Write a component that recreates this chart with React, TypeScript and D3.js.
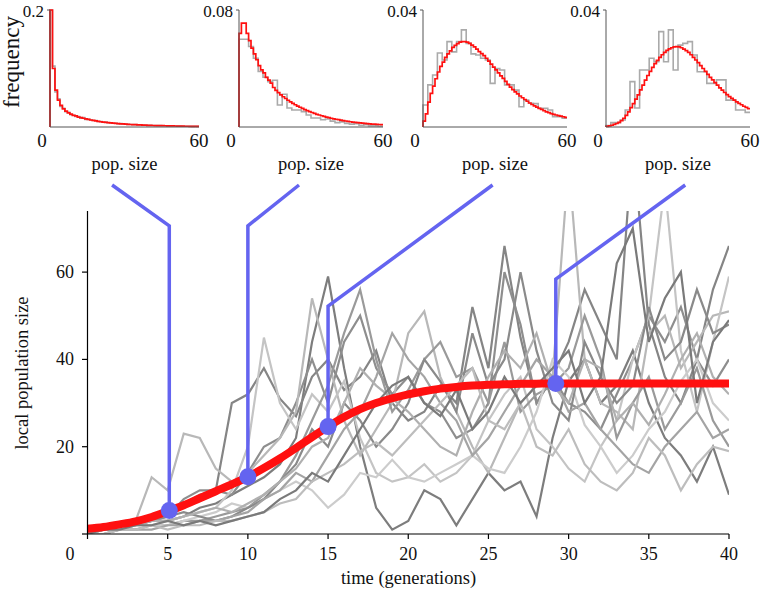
import React from 'react';
import * as d3 from 'd3';

// ---------- main chart data ----------
const timeTicks = [5, 10, 15, 20, 25, 30, 35, 40];
const popTicks = [20, 40, 60];

// deterministic mean (red) at t = 0..40
const meanCurve = [1.2, 1.6, 2.2, 2.9, 3.9, 5.2, 6.6, 8.2, 9.8, 11.4, 13.1, 15.1, 17.3, 19.7, 22.2, 24.6, 26.8, 28.6, 30.0, 31.1, 32.0, 32.7, 33.3, 33.7, 34.0, 34.2, 34.3, 34.4, 34.45, 34.5, 34.5, 34.5, 34.5, 34.5, 34.5, 34.5, 34.5, 34.5, 34.5, 34.5, 34.5];

// stochastic realisations at t = 0..40
const run1 = [0, 1, 1, 2, 3, 3, 4, 6, 7, 9, 11, 13, 16, 22, 44, 59, 38, 20, 6, 1, 3, 10, 8, 2, 8, 14, 10, 12, 4, 22, 35, 40, 30, 34, 42, 30, 22, 18, 12, 20, 9];
const run2 = [1, 2, 2, 3, 4, 5, 7, 9, 10, 30, 32, 38, 31, 27, 36, 40, 33, 36, 42, 30, 26, 28, 34, 30, 52, 38, 66, 45, 30, 36, 44, 56, 48, 40, 90, 48, 36, 30, 40, 56, 66];
const run3 = [0, 1, 2, 3, 3, 4, 8, 10, 10, 9, 14, 20, 22, 30, 40, 30, 44, 50, 38, 32, 36, 30, 28, 22, 24, 30, 60, 48, 30, 36, 30, 28, 24, 32, 40, 50, 44, 52, 40, 34, 40];
const run4 = [1, 1, 2, 3, 13, 10, 23, 22, 15, 12, 14, 18, 22, 28, 54, 40, 26, 18, 24, 30, 46, 51, 36, 28, 20, 14, 22, 30, 34, 36, 85, 40, 30, 28, 24, 46, 50, 38, 44, 50, 51];
const run5 = [0, 1, 1, 2, 2, 3, 4, 5, 6, 10, 20, 45, 30, 24, 32, 28, 35, 22, 14, 12, 13, 16, 12, 14, 18, 26, 32, 36, 24, 20, 15, 12, 20, 26, 40, 50, 80, 42, 28, 44, 59];
const run6 = [0, 0, 1, 1, 2, 2, 3, 3, 4, 5, 6, 9, 12, 18, 26, 34, 46, 56, 40, 28, 33, 40, 44, 36, 38, 30, 44, 28, 32, 34, 38, 50, 40, 22, 30, 36, 24, 30, 38, 26, 20];
const run7 = [0, 1, 1, 2, 2, 2, 3, 4, 5, 7, 6, 8, 10, 12, 10, 6, 9, 14, 13, 17, 13, 12, 14, 16, 18, 15, 14, 20, 28, 40, 36, 25, 20, 14, 18, 24, 28, 35, 40, 30, 26];
const run8 = [1, 1, 2, 2, 3, 4, 5, 4, 3, 4, 6, 8, 12, 16, 24, 20, 30, 26, 20, 24, 30, 40, 35, 28, 46, 34, 40, 60, 42, 30, 26, 44, 36, 30, 34, 52, 40, 44, 56, 46, 48];
const run9 = [0, 0, 1, 1, 1, 2, 2, 3, 3, 4, 5, 8, 10, 14, 12, 18, 24, 28, 36, 46, 40, 36, 30, 26, 18, 22, 28, 34, 40, 36, 28, 30, 24, 20, 16, 14, 20, 24, 28, 22, 24];
const run10 = [1, 2, 2, 2, 3, 3, 4, 5, 6, 5, 7, 9, 12, 15, 20, 22, 30, 38, 34, 31, 28, 24, 20, 18, 28, 36, 42, 38, 46, 34, 30, 40, 38, 26, 30, 25, 32, 40, 46, 36, 32];
const run11 = [0, 0, 1, 1, 2, 1, 2, 2, 3, 3, 4, 5, 7, 8, 12, 14, 16, 19, 21, 18, 22, 26, 30, 34, 38, 26, 24, 30, 20, 18, 24, 16, 12, 10, 14, 22, 18, 10, 16, 20, 19];
const run12 = [0, 1, 1, 2, 2, 3, 2, 3, 2, 3, 4, 5, 8, 10, 14, 12, 18, 24, 30, 34, 36, 30, 27, 33, 24, 28, 36, 30, 34, 38, 42, 30, 36, 62, 70, 44, 54, 60, 30, 44, 49];
const runs = [run1, run2, run3, run4, run5, run6, run7, run8, run9, run10, run11, run12];
const runColors = ['#7d7d7d', '#858585', '#8e8e8e', '#b8b8b8', '#c4c4c4', '#9a9a9a', '#cccccc', '#8a8a8a', '#a4a4a4', '#b0b0b0', '#bdbdbd', '#7a7a7a'];

// sampled time points (blue markers)
const sampleTimes = [5.1, 10, 15, 29.2];
const sampleValues = [5.4, 13.1, 24.6, 34.5];
const bendLevels = [70.6, 70.6, 52.2, 58.4];
const anchorPopSize = [25, 25, 29, 33];

// ---------- histogram data (pop. size 0..60) ----------
const histMax = [0.2, 0.08, 0.04, 0.04];
const histMaxLabels = ['0.2', '0.08', '0.04', '0.04'];
const histXLabels = ['0', '60'];

const hist1Red = [0.2, 0.1, 0.063, 0.046, 0.037, 0.031, 0.027, 0.024, 0.022, 0.02, 0.019, 0.017, 0.016, 0.015, 0.014, 0.013, 0.012, 0.0112, 0.0104, 0.0097, 0.009, 0.0085, 0.008, 0.0075, 0.007, 0.0066, 0.0062, 0.0058, 0.0055, 0.0052, 0.0049, 0.0046, 0.0043, 0.0041, 0.0039, 0.0037, 0.0035, 0.0033, 0.0031, 0.0029, 0.0027, 0.0026, 0.0025, 0.0024, 0.0023, 0.0022, 0.0021, 0.002, 0.0019, 0.0018, 0.0017, 0.0016, 0.0015, 0.0014, 0.0013, 0.0013, 0.0012, 0.0012, 0.0011, 0.0011];
const hist1Gray = [0.2, 0.104, 0.06, 0.048, 0.035, 0.032, 0.026, 0.025, 0.021, 0.02, 0.018, 0.018, 0.015, 0.016, 0.013, 0.013, 0.012, 0.011, 0.011, 0.0095, 0.0092, 0.0082, 0.0083, 0.0072, 0.0071, 0.0064, 0.0063, 0.0056, 0.0057, 0.005, 0.005, 0.0045, 0.0044, 0.004, 0.004, 0.0036, 0.0036, 0.0032, 0.0031, 0.0028, 0.0028, 0.0025, 0.0026, 0.0023, 0.0024, 0.0021, 0.0022, 0.0019, 0.002, 0.0017, 0.0018, 0.0015, 0.0016, 0.0013, 0.0014, 0.0012, 0.0013, 0.0011, 0.0012, 0.001];

const hist2Red = [0.064, 0.071, 0.071, 0.064, 0.059, 0.054, 0.05, 0.046, 0.042, 0.039, 0.037, 0.034, 0.032, 0.03, 0.027, 0.025, 0.0235, 0.022, 0.0207, 0.0195, 0.0183, 0.0172, 0.0162, 0.0152, 0.0143, 0.0135, 0.0127, 0.0119, 0.0112, 0.0105, 0.0099, 0.0093, 0.0087, 0.0082, 0.0077, 0.0072, 0.0068, 0.0064, 0.006, 0.0056, 0.0053, 0.005, 0.0047, 0.0044, 0.0041, 0.0039, 0.0036, 0.0034, 0.0032, 0.003, 0.0028, 0.0026, 0.0025, 0.0023, 0.0022, 0.002, 0.0019, 0.0018, 0.0017, 0.0016];
const hist2Gray = [0.06, 0.06, 0.055, 0.047, 0.038, 0.034, 0.031, 0.032, 0.015, 0.0224, 0.013, 0.0116, 0.0116, 0.0105, 0.0082, 0.0062, 0.0062, 0.005, 0.0055, 0.004, 0.003, 0.0035, 0.0025, 0.002, 0.0022, 0.0012, 0.0015, 0.0008, 0.0008, 0.0005];

const hist3Red = [0.002, 0.0045, 0.0085, 0.0115, 0.014, 0.0165, 0.0188, 0.0207, 0.0222, 0.0238, 0.025, 0.026, 0.0272, 0.0279, 0.0285, 0.029, 0.0292, 0.0292, 0.029, 0.0286, 0.028, 0.0274, 0.0266, 0.0258, 0.0251, 0.0244, 0.0235, 0.0225, 0.0215, 0.0205, 0.0195, 0.0185, 0.0175, 0.0166, 0.0156, 0.0146, 0.0136, 0.0128, 0.012, 0.0113, 0.0106, 0.01, 0.0094, 0.0088, 0.0082, 0.0077, 0.0072, 0.0068, 0.0064, 0.006, 0.0056, 0.0052, 0.0049, 0.0046, 0.0043, 0.0041, 0.0039, 0.0037, 0.0035, 0.0033];
const hist3Gray = [0.0075, 0.0144, 0.0178, 0.0253, 0.0229, 0.0292, 0.0257, 0.0292, 0.0332, 0.0286, 0.025, 0.0246, 0.0235, 0.0229, 0.0149, 0.02, 0.0195, 0.0144, 0.0144, 0.0126, 0.0069, 0.0092, 0.0081, 0.008, 0.0064, 0.0064, 0.0058, 0.0035, 0.0035, 0.003];

const hist4Red = [0.0002, 0.0004, 0.0006, 0.0009, 0.0012, 0.0016, 0.0022, 0.003, 0.004, 0.0052, 0.0066, 0.008, 0.0095, 0.011, 0.0127, 0.0143, 0.016, 0.0176, 0.019, 0.0204, 0.0217, 0.0228, 0.0238, 0.0247, 0.0255, 0.0262, 0.0267, 0.0271, 0.0274, 0.0275, 0.0274, 0.0271, 0.0266, 0.0261, 0.0255, 0.0247, 0.0238, 0.0229, 0.022, 0.021, 0.02, 0.019, 0.018, 0.017, 0.0161, 0.0152, 0.0143, 0.0134, 0.0126, 0.0118, 0.0111, 0.0104, 0.0098, 0.0092, 0.0086, 0.0081, 0.0076, 0.0071, 0.0067, 0.0063];
const hist4Gray = [0.0005, 0.0015, 0.0015, 0.0024, 0.0058, 0.0155, 0.0065, 0.0195, 0.0195, 0.0235, 0.0223, 0.0326, 0.0223, 0.0332, 0.0195, 0.028, 0.0286, 0.0292, 0.0246, 0.0189, 0.0189, 0.0149, 0.0149, 0.0161, 0.0161, 0.0092, 0.0092, 0.0058, 0.0058, 0.005];

const histRed = [hist1Red, hist2Red, hist3Red, hist4Red];
const histGray = [hist1Gray, hist2Gray, hist3Gray, hist4Gray];

// ---------- layout ----------
const FONT = '"Liberation Serif", "Times New Roman", Times, serif';
const BLUE = '#6464f0';
const RED = '#ff1010';
const panelLeft = [50, 239, 423, 606];
const panelRight = [199, 383, 567, 750];
const panelTop = 10;
const panelBottom = 127;
const connectorTopY = 185;

function stepPoints(vals: number[]): [number, number][] {
  const bw = 60 / vals.length;
  const pts: [number, number][] = [[0, 0]];
  vals.forEach((v, i) => pts.push([i * bw, v]));
  pts.push([60, vals[vals.length - 1]]);
  return pts;
}

export default function App() {
  const x = d3.scaleLinear().domain([0, 40]).range([87.5, 729]);
  const y = d3.scaleLinear().domain([0, 74]).range([534, 211]);
  const runLine = d3.line<number>().x((_, i) => x(i)).y((d) => y(d));
  const meanLine = d3.line<number>().x((_, i) => x(i)).y((d) => y(d)).curve(d3.curveMonotoneX);

  const panels = histMax.map((m, p) => {
    const hx = d3.scaleLinear().domain([0, 60]).range([panelLeft[p], panelRight[p]]);
    const hy = d3.scaleLinear().domain([0, m]).range([panelBottom, panelTop]);
    const step = d3.line<[number, number]>().x((d) => hx(d[0])).y((d) => hy(d[1])).curve(d3.curveStepAfter);
    return { hx, hy, step };
  });

  return (
    <svg width={760} height={592} style={{ position: 'absolute', left: 0, top: 0, background: '#fff' }} fontFamily={FONT}>
      <defs>
        <clipPath id="plotClip">
          <rect x={x(0)} y={y(74)} width={x(40) - x(0)} height={y(0) - y(74)} />
        </clipPath>
      </defs>

      {/* histograms */}
      {panels.map(({ hx, hy, step }, p) => (
        <g key={'h' + p}>
          <path d={step(stepPoints(histGray[p])) || ''} fill="none" stroke="#aaaaaa" strokeWidth={1.6} />
          <path d={step(stepPoints(histRed[p])) || ''} fill="none" stroke={RED} strokeWidth={1.7} />
          <line x1={hx(0)} x2={hx(0)} y1={hy(0)} y2={hy(histMax[p])} stroke="#555" strokeWidth={1} />
          <line x1={hx(0) - 3} x2={hx(0)} y1={hy(histMax[p])} y2={hy(histMax[p])} stroke="#555" strokeWidth={1} />
          <line x1={hx(0)} x2={hx(60)} y1={hy(0)} y2={hy(0)} stroke="#555" strokeWidth={1} />
          <text x={hx(0) - 6} y={hy(histMax[p]) + 7} fontSize={17} textAnchor="end" fill="#111">{histMaxLabels[p]}</text>
          <text x={hx(0) - 8} y={147} fontSize={19} textAnchor="middle" fill="#111">{histXLabels[0]}</text>
          <text x={hx(60)} y={147} fontSize={19} textAnchor="middle" fill="#111">{histXLabels[1]}</text>
          <text x={(hx(0) + hx(60)) / 2} y={170} fontSize={18.5} textAnchor="middle" fill="#111">pop. size</text>
        </g>
      ))}
      <text transform="translate(19,62) rotate(-90)" fontSize={23} textAnchor="middle" fill="#111">frequency</text>

      {/* stochastic runs */}
      <g clipPath="url(#plotClip)">
        {runs.map((r, i) => (
          <path key={'r' + i} d={runLine(r) || ''} fill="none" stroke={runColors[i]} strokeWidth={2.2} strokeLinejoin="miter" />
        ))}
      </g>

      {/* mean */}
      <path d={meanLine(meanCurve) || ''} fill="none" stroke={RED} strokeWidth={8} />

      {/* connectors */}
      {sampleTimes.map((t, i) => {
        const ax = panels[i].hx(anchorPopSize[i]);
        return (
          <path key={'c' + i}
            d={`M${ax},${connectorTopY}L${x(t)},${y(bendLevels[i])}L${x(t)},${y(sampleValues[i])}`}
            fill="none" stroke={BLUE} strokeWidth={3.5} />
        );
      })}
      {sampleTimes.map((t, i) => (
        <circle key={'m' + i} cx={x(t)} cy={y(sampleValues[i])} r={8.5} fill={BLUE} />
      ))}

      {/* axes */}
      <line x1={x(0)} x2={x(0)} y1={y(0)} y2={y(74)} stroke="#000" strokeWidth={1.2} />
      <line x1={x(0)} x2={x(40)} y1={y(0)} y2={y(0)} stroke="#000" strokeWidth={1.2} />
      {[0, ...popTicks].map((v) => (
        <line key={'yt' + v} x1={x(0) - 5.5} x2={x(0)} y1={y(v)} y2={y(v)} stroke="#000" strokeWidth={1.2} />
      ))}
      {popTicks.map((v) => (
        <text key={'yl' + v} x={74} y={y(v) + 6} fontSize={18} textAnchor="end" fill="#111">{v}</text>
      ))}
      {[0, ...timeTicks].map((v) => (
        <line key={'xt' + v} x1={x(v)} x2={x(v)} y1={y(0)} y2={y(0) + 5} stroke="#000" strokeWidth={1.2} />
      ))}
      {timeTicks.map((v) => (
        <text key={'xl' + v} x={x(v)} y={560} fontSize={18} textAnchor="middle" fill="#111">{v}</text>
      ))}
      <text x={x(0) - 17.5} y={560} fontSize={18} textAnchor="middle" fill="#111">0</text>

      <text x={408.5} y={584} fontSize={18.5} textAnchor="middle" fill="#111">time (generations)</text>
      <text transform="translate(28,373) rotate(-90)" fontSize={18.5} textAnchor="middle" fill="#111">local population size</text>
    </svg>
  );
}
